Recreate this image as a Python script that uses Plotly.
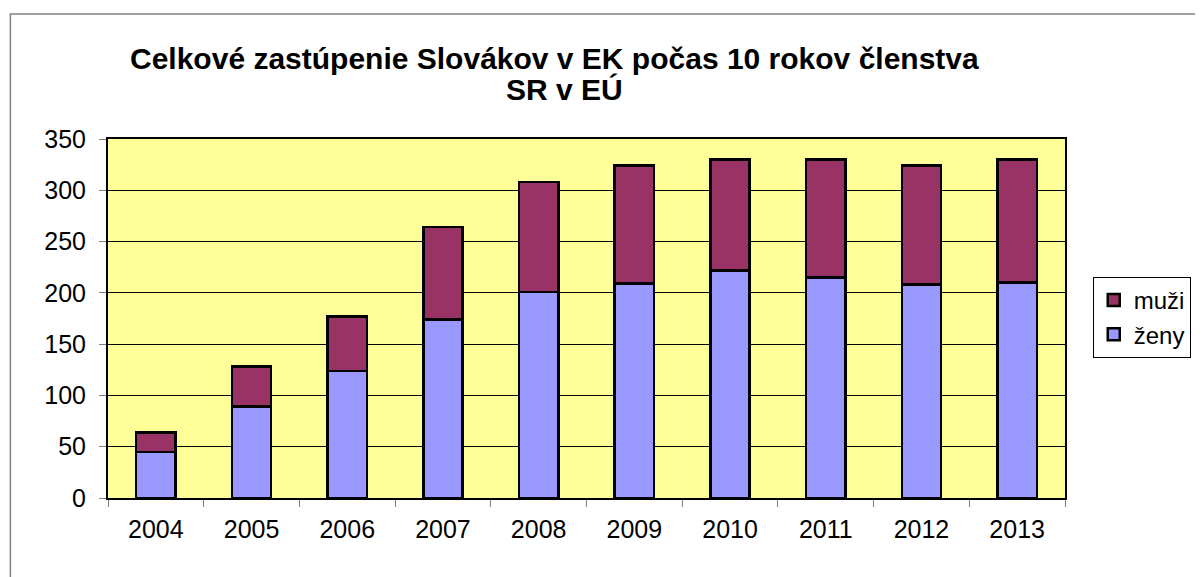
import plotly.graph_objects as go

roky = ['2004', '2005', '2006', '2007', '2008', '2009', '2010', '2011', '2012', '2013']
zeny = [45, 89, 124, 174, 201, 209, 222, 215, 208, 210]
muzi = [19, 39, 53, 90, 107, 115, 108, 115, 116, 120]

fig = go.Figure()
fig.add_trace(go.Bar(x=roky, y=zeny, name='ženy', marker=dict(color='#9999FF', line=dict(color='black', width=2.5)), width=0.41))
fig.add_trace(go.Bar(x=roky, y=muzi, name='muži', marker=dict(color='#993366', line=dict(color='black', width=2.5)), width=0.41))

# page has 8px body margin, so the figure is a bit smaller than the window
fig.update_layout(
    barmode='stack',
    width=1195, height=569,
    margin=dict(l=100, r=136, t=131, b=79),
    paper_bgcolor='white', plot_bgcolor='#FFFF99',
    font=dict(family='Liberation Sans, Arial', size=25, color='black'),
    legend=dict(traceorder='reversed', x=1.029, xanchor='left', y=0.503, yanchor='middle',
                bordercolor='black', borderwidth=1, font=dict(size=24), tracegroupgap=8,
                itemwidth=30),
    showlegend=True,
)
# title as two annotations to keep the tight line spacing
fig.add_annotation(text='<b>Celkové zastúpenie Slovákov v EK počas 10 rokov členstva</b>',
                   xref='paper', yref='paper', x=0.467, y=1.223, xanchor='center', yanchor='middle',
                   showarrow=False, font=dict(size=30))
fig.add_annotation(text='<b>SR v EÚ</b>',
                   xref='paper', yref='paper', x=0.477, y=1.139, xanchor='center', yanchor='middle',
                   showarrow=False, font=dict(size=30))
fig.update_yaxes(range=[0, 350], dtick=50, showgrid=True, gridcolor='black', gridwidth=1,
                 showline=True, linecolor='black', linewidth=2, mirror=True,
                 ticks='outside', ticklen=7, tickcolor='gray', zeroline=False, ticklabelstandoff=8)
fig.update_xaxes(showline=True, linecolor='black', linewidth=2, mirror=True,
                 ticks='outside', ticklen=7, tickcolor='gray', tickson='boundaries', ticklabelstandoff=8)
fig.add_shape(type='rect', xref='paper', yref='paper', x0=-0.102, x1=1.3, y0=-0.4, y1=1.348,
              line=dict(color='gray', width=1.5))
fig.write_html("out.html")
